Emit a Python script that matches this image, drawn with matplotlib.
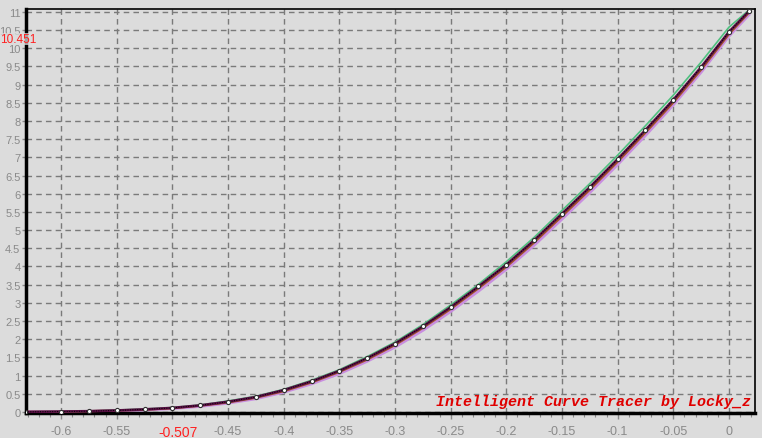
import matplotlib
matplotlib.use("Agg")
import matplotlib.pyplot as plt
import matplotlib.transforms as mtransforms
from matplotlib.ticker import MultipleLocator, FixedLocator

# Data
x_vals = [-0.632, -0.6, -0.575, -0.55, -0.525, -0.5, -0.475, -0.45, -0.425, -0.4,
          -0.375, -0.35, -0.325, -0.3, -0.275, -0.25, -0.225, -0.2, -0.175, -0.15,
          -0.125, -0.1, -0.075, -0.05, -0.025, 0.0, 0.018]
y_main = [0.0, 0.01, 0.02, 0.04, 0.07, 0.11, 0.18, 0.28, 0.41, 0.60,
          0.84, 1.13, 1.48, 1.88, 2.35, 2.88, 3.45, 4.05, 4.72, 5.45,
          6.18, 6.95, 7.75, 8.58, 9.48, 10.45, 11.02]
y_violet = [0.0, 0.0, 0.01, 0.03, 0.05, 0.09, 0.15, 0.24, 0.36, 0.54,
            0.77, 1.05, 1.39, 1.78, 2.24, 2.76, 3.32, 3.92, 4.58, 5.30,
            6.03, 6.80, 7.60, 8.44, 9.34, 10.33, 10.92]
y_green = [0.0, 0.01, 0.02, 0.05, 0.08, 0.12, 0.19, 0.30, 0.43, 0.62,
           0.87, 1.16, 1.52, 1.92, 2.40, 2.94, 3.51, 4.13, 4.80, 5.54,
           6.28, 7.06, 7.87, 8.71, 9.62, 10.58, 11.05]
y_brown = [0.0, 0.0, 0.02, 0.04, 0.06, 0.10, 0.17, 0.26, 0.39, 0.57,
           0.81, 1.10, 1.44, 1.84, 2.31, 2.83, 3.40, 3.99, 4.66, 5.38,
           6.11, 6.88, 7.68, 8.51, 9.41, 10.39, 10.98]

x_major = [-0.6, -0.55, -0.5, -0.45, -0.4, -0.35, -0.3, -0.25, -0.2, -0.15, -0.1, -0.05, 0.0]
x_labels = ["-0.6", "-0.55", "-0.507", "-0.45", "-0.4", "-0.35", "-0.3", "-0.25",
            "-0.2", "-0.15", "-0.1", "-0.05", "0"]
y_major = [0, 0.5, 1, 1.5, 2, 2.5, 3, 3.5, 4, 4.5, 5, 5.5, 6, 6.5, 7, 7.5, 8, 8.5,
           9, 9.5, 10, 10.5, 11]
y_labels = ["0", "0.5", "1", "1.5", "2", "2.5", "3", "3.5", "4", "4.5", "5", "5.5",
            "6", "6.5", "7", "7.5", "8", "8.5", "9", "9.5", "10", "10.5", "11"]
marker_value_label = "10.451"

bg = "#dcdcdc"
fig = plt.figure(figsize=(7.62, 4.39), dpi=100, facecolor=bg)
ax = fig.add_axes([26/762, 25/439, 729/762, 404/439], facecolor=bg)

ax.set_xlim(-0.6315, 0.0234)
ax.set_ylim(-0.03, 11.08)

ax.grid(True, which="major", color="#7a7a7a", linestyle=(0, (4, 3)), linewidth=1.0)
ax.set_axisbelow(True)

ax.plot(x_vals, y_violet, color="#c98ee0", lw=2.0, zorder=2)
ax.plot(x_vals, y_brown, color="#a0502a", lw=1.6, zorder=3)
ax.plot(x_vals, y_green, color="#50c080", lw=1.2, zorder=3)
ax.plot(x_vals, y_main, color="#5a0f45", lw=1.9, zorder=4)
ax.plot(x_vals, y_main, color="black", lw=0.7, linestyle=(0, (1, 1.5)),
        marker="o", ms=3.0, mfc="white", mec="#303030", mew=0.8, zorder=5)

ax.xaxis.set_major_locator(FixedLocator(x_major))
ax.set_xticklabels(x_labels)
ax.xaxis.set_minor_locator(MultipleLocator(0.01))
ax.yaxis.set_major_locator(FixedLocator(y_major))
ax.set_yticklabels(y_labels)

ax.tick_params(axis="both", which="major", colors="#8a8a8a", labelcolor="#8a8a8a",
               labelsize=9, length=4, width=1, direction="out")
ax.tick_params(axis="x", which="major", pad=5)
ax.tick_params(axis="y", which="major", pad=1, labelsize=8, length=3)
ax.tick_params(axis="x", which="minor", colors="#8a8a8a", length=3, width=0.8)
for lab in ax.get_xticklabels():
    lab.set_fontfamily("Liberation Sans")
    if lab.get_text() == "-0.507":
        lab.set_color("#ff2020")
        lab.set_fontsize(10)
        lab.set_transform(lab.get_transform() +
                          mtransforms.ScaledTranslation(6/100, 0, fig.dpi_scale_trans))
for lab in ax.get_yticklabels():
    lab.set_fontfamily("Liberation Sans")

for side in ("left", "bottom"):
    ax.spines[side].set_linewidth(2.5)
    ax.spines[side].set_color("black")
for side in ("top", "right"):
    ax.spines[side].set_linewidth(1.2)
    ax.spines[side].set_color("black")

fig.text(0.5/762, 1 - 40/439, marker_value_label, ha="left", va="center",
         color="#ff2020", fontsize=8.5, family="Liberation Sans", zorder=10,
         bbox=dict(facecolor=bg, edgecolor="none", pad=0.2, alpha=0.75))

ax.text(0.995, 0.012, "Intelligent Curve Tracer by Locky_z", transform=ax.transAxes,
        ha="right", va="bottom", color="#e00000", fontsize=10.8,
        family="Liberation Mono", fontweight="bold", fontstyle="italic", zorder=10)

fig.savefig("out.png", dpi=100, facecolor=bg)
